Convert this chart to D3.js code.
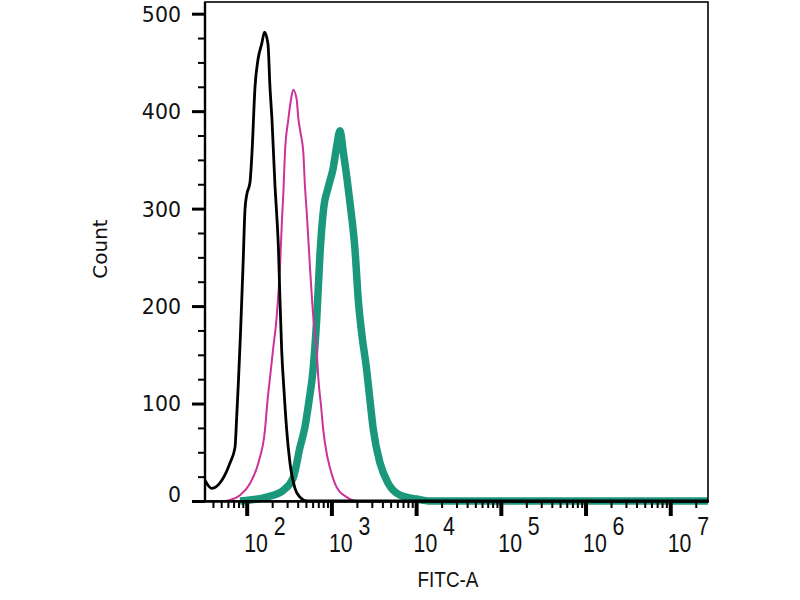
<!DOCTYPE html>
<html><head><meta charset="utf-8">
<script src="https://cdn.jsdelivr.net/npm/d3@7"></script>
<style>body{margin:0;background:#fff}</style>
</head><body><svg id="c" width="800" height="600"></svg>
<script>
// ---- data ----
const xDomain = [32.2, 2.79e7];
const yDomain = [0, 512];
const yMajorTicks = [0, 100, 200, 300, 400, 500];
const yMinorTicks = [25, 50, 75, 125, 150, 175, 225, 250, 275, 325, 350, 375, 425, 450, 475];
const xDecades = [1e2, 1e3, 1e4, 1e5, 1e6, 1e7];
const xDecadeExponents = ["2", "3", "4", "5", "6", "7"];
const xTitle = "FITC-A";
const yTitle = "Count";

// black (unstained / control)
const blackX = [32.2, 38.6, 50.7, 63.5, 72.8, 75.9, 80.0, 84.5, 90.4, 95.5, 100, 109.4, 115.6, 125.4, 136, 150.3, 162.3, 178.3, 188.2, 198.9, 215.9, 228, 237.3, 247.2, 258.8, 275.5, 296.5, 324.3, 371.5, 425.6, 515, 2.79e7];
const blackY = [21, 13, 21, 39, 55, 83, 124, 172, 240, 299, 314, 327, 358, 425, 453, 469, 481, 469, 425, 391, 323, 289, 258, 206, 155, 114, 73, 39, 13, 4, 0, 0];

// magenta (isotype)
const magentaX = [55.5, 63.5, 83.4, 109.4, 137.1, 164.4, 176.1, 188.2, 204.5, 226, 247.2, 261.1, 271.8, 283.2, 309.7, 333.3, 354.8, 389.1, 406.5, 431.5, 465.6, 487.5, 510.5, 558.5, 611.2, 670, 704, 753.6, 801.7, 874.7, 961.6, 1155, 1517, 1991, 2.79e7];
const magentaY = [0, 1, 6, 18, 39, 73, 103, 126, 155, 189, 240, 289, 319, 358, 391, 412, 422, 412, 393, 378, 358, 323, 297, 240, 189, 155, 124, 98, 73, 50, 34, 14, 4, 0, 0];

// teal (stained sample)
const tealX = [83.4, 109.4, 172.2, 270.4, 354.8, 425.6, 487.5, 544.5, 606.7, 670, 732.8, 806.8, 918.6, 1052, 1155, 1264, 1381, 1517, 1657, 1898, 2078, 2280, 2612, 2857, 3127, 3750, 4699, 6457, 10160, 14590, 2.79e7];
const tealY = [0, 1, 4, 11, 24, 55, 76, 103, 134, 186, 253, 299, 322, 342, 364, 380, 358, 333, 306, 258, 206, 172, 134, 103, 73, 39, 18, 6, 2, 0, 0];

// ---- chart ----
const svg = d3.select("#c");
const L = 205, R = 708, T = 2, B = 501;
const x = d3.scaleLog().domain(xDomain).range([L, R]);
const y = d3.scaleLinear().domain(yDomain).range([B, T]);

svg.append("defs").append("clipPath").attr("id", "clip")
  .append("rect").attr("x", L).attr("y", -10).attr("width", R - L).attr("height", B + 20);

const series = [
  {xs: tealX, ys: tealY, color: "#1b987c", w: 7.5},
  {xs: magentaX, ys: magentaY, color: "#cc3399", w: 2},
  {xs: blackX, ys: blackY, color: "#000000", w: 2.8}
];
const line = d3.line().x(d => x(d[0])).y(d => y(d[1])).curve(d3.curveMonotoneX);
const g = svg.append("g").attr("clip-path", "url(#clip)");
series.forEach(s => {
  g.append("path")
    .datum(s.xs.map((v, i) => [v, s.ys[i]]))
    .attr("d", line)
    .attr("fill", "none")
    .attr("stroke", s.color)
    .attr("stroke-width", s.w)
    .attr("stroke-linejoin", "round");
});

// frame
svg.append("rect").attr("x", L).attr("y", T).attr("width", R - L).attr("height", B - T)
  .attr("fill", "none").attr("stroke", "#000").attr("stroke-width", 1.6);
svg.append("line").attr("x1", L).attr("x2", L).attr("y1", T).attr("y2", B + 1)
  .attr("stroke", "#000").attr("stroke-width", 2.4);
svg.append("line").attr("x1", L).attr("x2", R + 1).attr("y1", B + 0.5).attr("y2", B + 0.5)
  .attr("stroke", "#000").attr("stroke-width", 2.4);

// y axis
const yMinor = svg.append("g").attr("transform", `translate(${L},0)`)
  .call(d3.axisLeft(y).tickValues(yMinorTicks).tickSize(7).tickSizeOuter(0).tickFormat(""));
yMinor.select(".domain").remove();
yMinor.selectAll("line").attr("stroke-width", 2);

const yMajor = svg.append("g").attr("transform", `translate(${L},0)`)
  .call(d3.axisLeft(y).tickValues(yMajorTicks).tickSize(13).tickSizeOuter(0).tickPadding(11));
yMajor.select(".domain").remove();
yMajor.selectAll("line").attr("stroke-width", 3);
yMajor.selectAll("text")
  .attr("font-family", "DejaVu Sans, Verdana, sans-serif")
  .attr("font-size", 20.5)
  .attr("fill", "#111")
  .attr("dy", d => d === 0 ? "-0.0em" : "0.36em");

// x axis minor ticks
const xMinorTicks = [];
for (let k = 1; k <= 7; k++) for (let m = 2; m <= 9; m++) {
  const v = m * Math.pow(10, k);
  if (v >= xDomain[0] && v <= xDomain[1]) xMinorTicks.push(v);
}
const xMinor = svg.append("g").attr("transform", `translate(0,${B})`)
  .call(d3.axisBottom(x).tickValues(xMinorTicks).tickSize(7).tickSizeOuter(0).tickFormat(""));
xMinor.select(".domain").remove();
xMinor.selectAll("line").attr("stroke-width", 2);

const xMajor = svg.append("g").attr("transform", `translate(0,${B})`)
  .call(d3.axisBottom(x).tickValues(xDecades).tickSize(15).tickSizeOuter(0).tickFormat(""));
xMajor.select(".domain").remove();
xMajor.selectAll("line").attr("stroke-width", 4);
xMajor.selectAll(".tick").each(function(d, i) {
  const t = d3.select(this).append("g").attr("transform", "translate(-3,0) scale(0.82,1)");
  t.append("text").attr("x", 0).attr("y", 51).attr("text-anchor", "start")
    .attr("font-family", "Liberation Sans, Arial, sans-serif").attr("font-size", 26)
    .attr("fill", "#111").text("10");
  t.append("text").attr("x", 36).attr("y", 34).attr("text-anchor", "start")
    .attr("font-family", "Liberation Sans, Arial, sans-serif").attr("font-size", 26)
    .attr("fill", "#111").text(xDecadeExponents[i]);
});

// titles
svg.append("text").attr("transform", "translate(448,587) scale(0.86,1)")
  .attr("text-anchor", "middle")
  .attr("font-family", "Liberation Sans, Arial, sans-serif").attr("font-size", 22)
  .attr("fill", "#111").text(xTitle);
svg.append("text").attr("transform", "translate(107,249) rotate(-90)")
  .attr("text-anchor", "middle")
  .attr("font-family", "DejaVu Sans, Verdana, sans-serif").attr("font-size", 20)
  .attr("fill", "#111").text(yTitle);
</script>
</body></html>
